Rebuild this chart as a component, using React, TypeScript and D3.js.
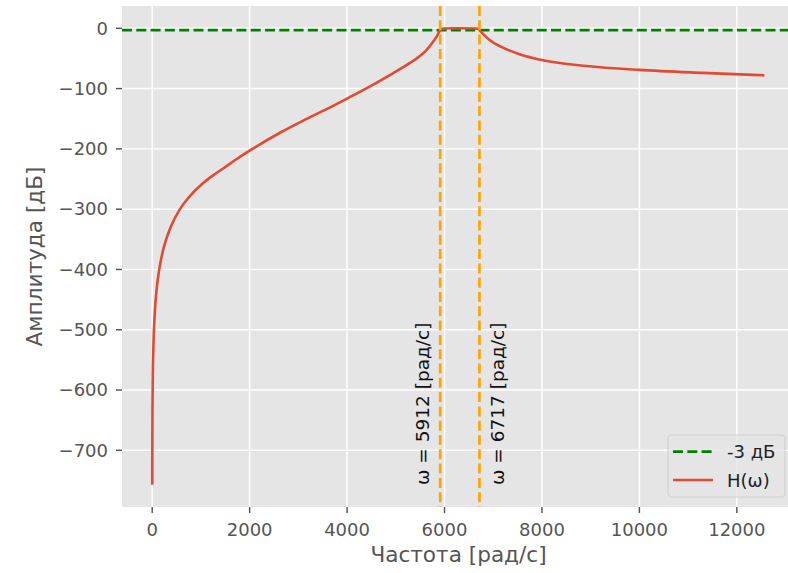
import React from "react";
import * as d3 from "d3";

// frequency response
const omega = [
  1, 3, 6, 12, 25, 50, 100, 135, 170, 220, 300, 400, 570, 750, 1040, 1250,
  1500, 1750, 2000, 2650, 3100, 3580, 4000, 4500, 4930, 5300, 5450, 5620, 5750,
  5850, 5912, 5950, 6000, 6300, 6650, 6700, 6717, 6800, 6930, 7200, 7540, 8020,
  8910, 10000, 11300, 12566,
];
const amplitude = [
  -757, -679, -629, -579, -526, -476, -426, -405, -388, -369, -347, -326, -300,
  -280.5, -257, -244, -230, -216, -203, -172, -153, -134, -116.5, -95, -75, -57,
  -48.6, -37, -24, -12, -3, -0.8, -0.2, 0, -0.3, -1.5, -3, -10, -20, -32, -43,
  -53, -62.5, -69, -74, -78,
];

const xTicks = [0, 2000, 4000, 6000, 8000, 10000, 12000];
const yTicks = [0, -100, -200, -300, -400, -500, -600, -700];
const cutoffs = [5912, 6717];
const level3dB = -3;

const W = 788;
const H = 573;
const font = "DejaVu Sans";

const fmt = (v: number) => (v < 0 ? "\u2212" + Math.abs(v) : String(v));

export default function App() {
  const x = d3.scaleLinear().domain([-620, 13194]).range([122, 795]);
  const y = d3.scaleLinear().domain([-794, 37]).range([507, 6]);
  const [x0, x1] = x.range();
  const [y0, y1] = y.range();

  const line = d3
    .line<number>()
    .x((d, i) => x(omega[i]))
    .y((d) => y(d))
    .curve(d3.curveMonotoneX);

  return (
    <svg
      width={W}
      height={H}
      style={{ position: "absolute", left: 0, top: 0, background: "#fff" }}
      fontFamily={font}
    >
      <defs>
        <clipPath id="plot">
          <rect x={x0} y={y1} width={x1 - x0} height={y0 - y1} />
        </clipPath>
      </defs>
      <rect x={x0} y={y1} width={x1 - x0} height={y0 - y1} fill="#E5E5E5" />

      {/* grid */}
      {xTicks.map((t) => (
        <line key={"gx" + t} x1={x(t)} x2={x(t)} y1={y1} y2={y0} stroke="#fff" strokeWidth={1.45} />
      ))}
      {yTicks.map((t) => (
        <line key={"gy" + t} x1={x0} x2={x1} y1={y(t)} y2={y(t)} stroke="#fff" strokeWidth={1.45} />
      ))}

      {/* ticks */}
      {xTicks.map((t) => (
        <g key={"tx" + t}>
          <line x1={x(t)} x2={x(t)} y1={y0} y2={y0 + 6} stroke="#555" strokeWidth={1.45} />
          <text x={x(t)} y={536} textAnchor="middle" fontSize={18} fill="#555">
            {fmt(t)}
          </text>
        </g>
      ))}
      {yTicks.map((t) => (
        <g key={"ty" + t}>
          <line x1={x0 - 6} x2={x0} y1={y(t)} y2={y(t)} stroke="#555" strokeWidth={1.45} />
          <text x={108} y={y(t)} dy="0.35em" textAnchor="end" fontSize={18} fill="#555">
            {fmt(t)}
          </text>
        </g>
      ))}

      <g clipPath="url(#plot)">
        <line
          x1={x0} x2={x1} y1={y(level3dB)} y2={y(level3dB)}
          stroke="#008000" strokeWidth={2.7} strokeDasharray="10 4.3"
        />
        <path d={line(amplitude) || ""} fill="none" stroke="#E24A33" strokeWidth={2.6} />
        {cutoffs.map((c) => (
          <line
            key={"c" + c}
            x1={x(c)} x2={x(c)} y1={y1} y2={y0}
            stroke="#FFA500" strokeWidth={2.7} strokeDasharray="10 4.3"
          />
        ))}
      </g>

      {/* cutoff annotations */}
      {cutoffs.map((c, i) => (
        <text
          key={"a" + c}
          transform={`translate(${x(c) + (i === 0 ? -11 : 25)},485) rotate(-90)`}
          fontSize={18.5}
          fill="#111"
        >
          {`ω = ${c} [рад/с]`}
        </text>
      ))}

      {/* axis labels */}
      <text x={(x0 + x1) / 2} y={562} textAnchor="middle" fontSize={21.6} fill="#555">
        Частота [рад/с]
      </text>
      <text
        transform={`translate(42,${(y0 + y1) / 2}) rotate(-90)`}
        textAnchor="middle"
        fontSize={21.6}
        fill="#555"
      >
        Амплитуда [дБ]
      </text>

      {/* legend */}
      <g>
        <rect x={668} y={435} width={117} height={62} rx={4} fill="#E5E5E5" fillOpacity={0.8} stroke="#CCCCCC" strokeOpacity={0.8} strokeWidth={1.2} />
        <line x1={673} x2={713} y1={451.7} y2={451.7} stroke="#008000" strokeWidth={2.7} strokeDasharray="10 4.3" />
        <text x={727} y={458} fontSize={18} fill="#222">-3 дБ</text>
        <line x1={673} x2={713} y1={480} y2={480} stroke="#E24A33" strokeWidth={2.6} />
        <text x={727} y={486.5} fontSize={18} fill="#222">H(ω)</text>
      </g>
    </svg>
  );
}
